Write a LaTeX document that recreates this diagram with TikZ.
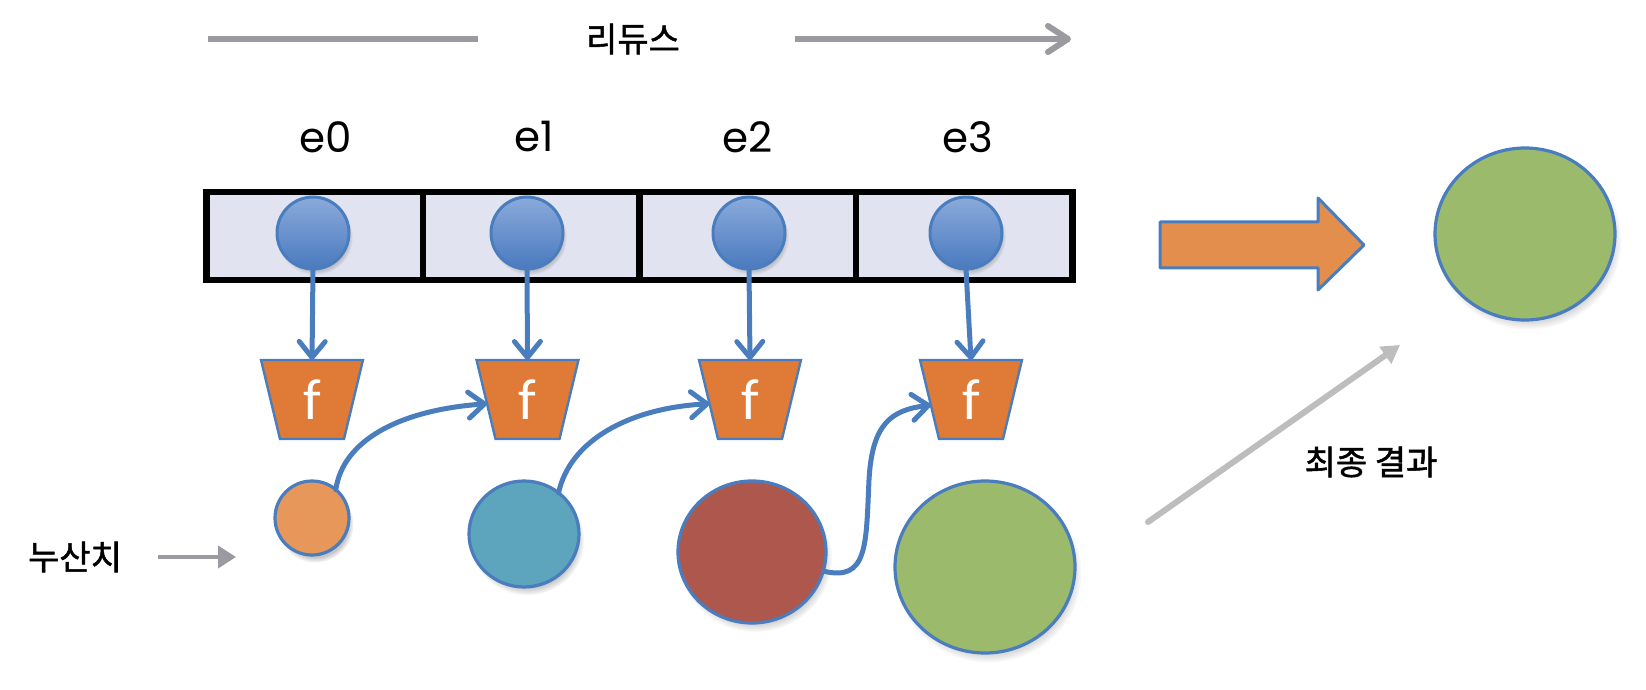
\documentclass[tikz,border=0pt]{standalone}
\usepackage{fontspec}
\newfontfamily\krfont{Noto Sans CJK KR}[FakeBold=1.5]
\newfontfamily\ffont{Carlito}
\newfontfamily\efont{Poppins}
\usetikzlibrary{shapes.geometric,arrows.meta,shadows}
\definecolor{bblue}{HTML}{4A7DBE}
\definecolor{cellfill}{HTML}{E1E4F0}
\definecolor{elemtop}{HTML}{8AAADB}
\definecolor{elembot}{HTML}{4A7ABF}
\definecolor{forange}{HTML}{DF7B37}
\definecolor{accorange}{HTML}{E8975A}
\definecolor{accteal}{HTML}{5DA5BD}
\definecolor{accred}{HTML}{AD574D}
\definecolor{accgreen}{HTML}{9BBA6C}
\definecolor{blockorange}{HTML}{E38E4C}
\definecolor{topgray}{HTML}{9A9AA0}
\definecolor{diaggray}{HTML}{BDBDBD}
\begin{document}
\begin{tikzpicture}[x=0.5pt,y=-0.5pt,
  cellbox/.style={rectangle, draw=black, line width=3.3pt, fill=cellfill,
    minimum width=108.25pt, minimum height=44pt, inner sep=0pt, outer sep=0pt},
  elem/.style={circle, draw=bblue, line width=1.5pt, top color=elemtop, bottom color=elembot,
    minimum size=36pt, inner sep=0pt, outer sep=0pt,
    circular drop shadow={shadow xshift=1pt, shadow yshift=-2pt, shadow scale=1.05, opacity=0.45}},
  elab/.style={font=\efont\fontsize{21}{21}\selectfont, text=black},
  trap/.style={trapezium, shape border rotate=180, trapezium angle=76.5,
    text width=32pt, align=center, text height=20pt, text depth=0pt,
    inner xsep=0pt, inner ysep=9.75pt,
    fill=forange, draw=bblue, line width=1.2pt, outer sep=0pt,
    text=white, font=\ffont\fontsize{29}{29}\selectfont},
  acc/.style={ellipse, draw=bblue, line width=1.6pt, inner sep=0pt, outer sep=0pt,
    circular drop shadow={shadow xshift=1.5pt, shadow yshift=-3pt, shadow scale=1.04, opacity=0.45}},
  barrow/.style={draw=bblue, line width=2.5pt, line cap=round,
    -{Straight Barb[length=8pt,width=13pt,line cap=round,line join=round]}},
  krtext/.style={font=\krfont\fontsize{17}{17}\selectfont, text=black},
  topline/.style={draw=topgray, line width=3pt},
]
\useasboundingbox (0,0) rectangle (1646,690);

% top reduce direction
\coordinate (r1s) at (208,39);
\coordinate (r1e) at (478,39);
\node[krtext] (reduce) at (633,39) {리듀스};
\coordinate (r2s) at (795,39);
\coordinate (r2e) at (1071,39);
\draw[topline] (r1s) -- (r1e);
\draw[topline, -{Straight Barb[length=10pt,width=13pt,line cap=round,line join=round]}] (r2s) -- (r2e);

% labels
\node[elab] (l0) at (326,137) {e0};
\node[elab] (l1) at (534,137) {e1};
\node[elab] (l2) at (748,137) {e2};
\node[elab] (l3) at (968,137) {e3};

% array cells
\node[cellbox] (cell0) at (314.75,236) {};
\node[cellbox] (cell1) at (531.25,236) {};
\node[cellbox] (cell2) at (747.75,236) {};
\node[cellbox] (cell3) at (964.25,236) {};

% elements
\node[elem] (c0) at (313,233) {};
\node[elem] (c1) at (527,233) {};
\node[elem] (c2) at (749,233) {};
\node[elem] (c3) at (966,233) {};

% function boxes
\node[trap] (t0) at (312,399.5) {f};
\node[trap] (t1) at (527.5,399.5) {f};
\node[trap] (t2) at (750,399.5) {f};
\node[trap] (t3) at (971,399.5) {f};

\draw[barrow] (c0.south) -- (t0.north);
\draw[barrow] (c1.south) -- (t1.north);
\draw[barrow] (c2.south) -- (t2.north);
\draw[barrow] (c3.south) -- (t3.north);

% accumulators
\node[acc, fill=accorange, minimum width=37pt, minimum height=37pt] (a0) at (312,518) {};
\node[acc, fill=accteal, minimum width=55pt, minimum height=53pt] (a1) at (524,534) {};
\node[acc, fill=accred, minimum width=74pt, minimum height=71pt] (a2) at (752,552) {};
\node[acc, fill=accgreen, minimum width=90pt, minimum height=86pt] (a3) at (985,567) {};

\draw[barrow] (a0.50) .. controls (343,440) and (400,410) .. (t1.186);
\draw[barrow] (a1.50) .. controls (570,440) and (630,408) .. (t2.186);
\draw[barrow] (a2.-15) .. controls (868,582) and (866,545) .. (869,480)
  .. controls (872,425) and (890,410) .. (t3.188);

% accumulator label
\node[krtext] (acclabel) at (75,557) {누산치};
\coordinate (accs) at (158,557);
\coordinate (acce) at (236,557);
\draw[draw=topgray, line width=2pt, -{Triangle[length=9pt,width=11pt]}] (accs) -- (acce);

% block arrow
\path[fill=blockorange, draw=bblue, line width=1.5pt, line join=round]
  (1160,222) -- (1318,222) -- (1318,198) -- (1364,245) -- (1318,290) -- (1318,268) -- (1160,268) -- cycle;

% final result
\node[acc, fill=accgreen, minimum width=90pt, minimum height=86pt] (res) at (1525,234) {};
\coordinate (ds) at (1148,522);
\coordinate (de) at (1400,345);
\draw[draw=diaggray, line width=3pt, line cap=round, -{Triangle[length=9pt,width=10pt]}] (ds) -- (de);
\node[krtext] (final) at (1371,462) {최종 결과};
\end{tikzpicture}
\end{document}
